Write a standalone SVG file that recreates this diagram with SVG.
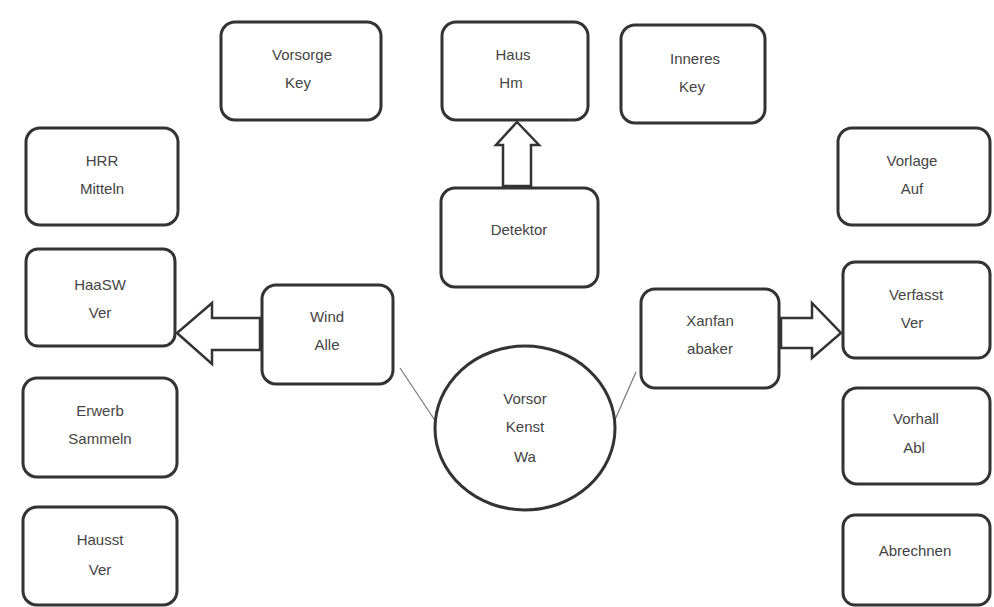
<svg xmlns="http://www.w3.org/2000/svg" width="994" height="607" viewBox="0 0 994 607">
<style>
.box{fill:#fff;stroke:#333;stroke-width:3}
.t{font-family:"Liberation Sans",Arial,sans-serif;font-size:15px;fill:#444;text-anchor:middle}
.blk{fill:#fff;stroke:#333;stroke-width:2.5;stroke-linejoin:miter}
.ln{fill:none;stroke:#777;stroke-width:1.2}
</style>
<rect width="994" height="607" fill="#fff"/>
<g id="connectors">
<line class="ln" x1="400" y1="368" x2="436" y2="422"/>
<line class="ln" x1="614" y1="422" x2="636" y2="372"/>
<path class="blk" d="M503,186 L503,145 L496,145 L517,122 L539,145 L531,145 L531,186 Z"/>
<path class="blk" d="M260,318 L212,318 L212,303 L177,333 L212,364 L212,350 L260,350 Z"/>
<path class="blk" d="M781,318 L812,318 L812,303 L841,333 L812,358 L812,348 L781,348 Z"/>
</g>
<g id="n1"><rect class="box" x="221" y="22" width="160" height="98" rx="14"/><text class="t" x="302" y="60">Vorsorge</text><text class="t" x="298" y="88">Key</text></g>
<g id="n2"><rect class="box" x="442" y="22" width="146" height="98" rx="14"/><text class="t" x="513" y="60">Haus</text><text class="t" x="511" y="88">Hm</text></g>
<g id="n3"><rect class="box" x="621" y="25" width="144" height="98" rx="14"/><text class="t" x="695" y="64">Inneres</text><text class="t" x="692" y="92">Key</text></g>
<g id="n4"><rect class="box" x="26" y="128" width="152" height="97" rx="14"/><text class="t" x="102" y="166">HRR</text><text class="t" x="102" y="194">Mitteln</text></g>
<g id="n5"><rect class="box" x="26" y="249" width="149" height="97" rx="12"/><text class="t" x="100" y="290">HaaSW</text><text class="t" x="100" y="318">Ver</text></g>
<g id="n6"><rect class="box" x="23" y="378" width="154" height="99" rx="14"/><text class="t" x="100" y="416">Erwerb</text><text class="t" x="100" y="444">Sammeln</text></g>
<g id="n7"><rect class="box" x="23" y="507" width="154" height="98" rx="14"/><text class="t" x="100" y="545">Hausst</text><text class="t" x="100" y="575">Ver</text></g>
<g id="n8"><rect class="box" x="262" y="285" width="131" height="99" rx="14"/><text class="t" x="327" y="322">Wind</text><text class="t" x="327" y="350">Alle</text></g>
<g id="n9"><rect class="box" x="441" y="188" width="157" height="99" rx="14"/><text class="t" x="519" y="235">Detektor</text></g>
<g id="n10"><ellipse cx="525" cy="428" rx="90" ry="82" fill="#fff" stroke="#333" stroke-width="3"/><text class="t" x="525" y="404">Vorsor</text><text class="t" x="525" y="432">Kenst</text><text class="t" x="525" y="462">Wa</text></g>
<g id="n11"><rect class="box" x="641" y="289" width="138" height="99" rx="14"/><text class="t" x="710" y="326">Xanfan</text><text class="t" x="710" y="354">abaker</text></g>
<g id="n12"><rect class="box" x="838" y="128" width="152" height="97" rx="14"/><text class="t" x="912" y="166">Vorlage</text><text class="t" x="912" y="194">Auf</text></g>
<g id="n13"><rect class="box" x="843" y="262" width="147" height="96" rx="12"/><text class="t" x="916" y="300">Verfasst</text><text class="t" x="912" y="328">Ver</text></g>
<g id="n14"><rect class="box" x="843" y="388" width="147" height="96" rx="14"/><text class="t" x="916" y="424">Vorhall</text><text class="t" x="914" y="453">Abl</text></g>
<g id="n15"><rect class="box" x="843" y="515" width="147" height="90" rx="12"/><text class="t" x="915" y="556">Abrechnen</text></g>
</svg>
